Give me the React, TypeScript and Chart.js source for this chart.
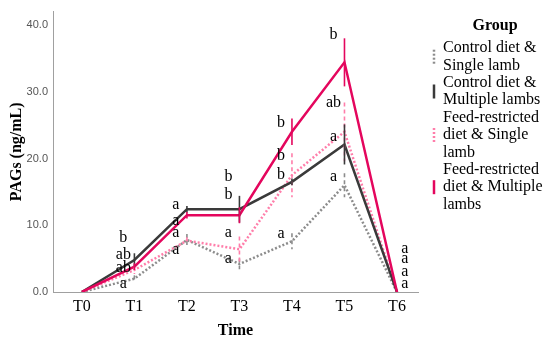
import React, { useEffect, useRef } from 'react';
import { Chart, registerables } from 'chart.js';

Chart.register(...registerables);

const times = ['T0', 'T1', 'T2', 'T3', 'T4', 'T5', 'T6'];
const yTicks = [0, 10, 20, 30, 40];

const controlSingle = [0, 2.0, 7.8, 4.2, 7.6, 16.0, 0];
const controlMultiple = [0, 4.8, 12.4, 12.4, 16.5, 22.1, 0];
const feedSingle = [0, 3.3, 7.7, 6.4, 17.5, 24.0, 0];
const feedMultiple = [0, 3.8, 11.5, 11.5, 24.0, 34.4, 0];

const controlSingleErr = [0, 0.5, 0.9, 0.8, 1.2, 1.8, 0];
const controlMultipleErr = [0, 1.0, 0.5, 2.0, 0.5, 3.0, 0];
const feedSingleErr = [0, 0.6, 0.5, 1.9, 3.3, 4.4, 0];
const feedMultipleErr = [0, 0.5, 0.5, 1.2, 2.0, 3.6, 0];

// significance letters per time point (text and y value of their centre)
const letterText = [
  [],
  ['b', 'ab', 'ab', 'a'],
  ['a', 'a', 'a', 'a'],
  ['b', 'b', 'a', 'a'],
  ['b', 'b', 'b', 'a'],
  ['b', 'ab', 'a', 'a'],
  ['a', 'a', 'a', 'a'],
];
const letterY = [
  [],
  [8.1, 5.5, 3.7, 1.3],
  [13.1, 10.7, 8.8, 6.3],
  [17.3, 14.5, 8.8, 4.9],
  [25.3, 20.4, 17.5, 8.7],
  [38.5, 28.4, 23.3, 17.2],
  [6.5, 4.9, 3.1, 1.3],
];

const groupNames = [
  ['Control diet &', 'Single lamb'],
  ['Control diet &', 'Multiple lambs'],
  ['Feed-restricted', 'diet & Single', 'lamb'],
  ['Feed-restricted', 'diet & Multiple', 'lambs'],
];

const SERIF = '"Liberation Serif", "Times New Roman", serif';
const SANS = '"Liberation Sans", Arial, sans-serif';

const styles = [
  { color: '#8c8c8c', dash: [2, 2], width: 2.5, errDash: [4, 3] },
  { color: '#3a3a3a', dash: [], width: 2.5, errDash: [] },
  { color: '#ff7eaa', dash: [2, 2], width: 2.5, errDash: [4, 3] },
  { color: '#e4065d', dash: [], width: 2.5, errDash: [] },
];

const seriesValues = [controlSingle, controlMultiple, feedSingle, feedMultiple];
const seriesErrors = [controlSingleErr, controlMultipleErr, feedSingleErr, feedMultipleErr];
const drawOrder = [3, 1, 2, 0];

const errorBarPlugin = {
  id: 'errorBars',
  afterDatasetsDraw(chart: any) {
    const { ctx } = chart;
    const xs = chart.scales.x;
    const ys = chart.scales.y;
    ctx.save();
    [0, 2, 1, 3].forEach((si) => {
      const st = styles[si];
      const vals = seriesValues[si];
      const errs = seriesErrors[si];
      ctx.strokeStyle = st.color;
      ctx.lineWidth = 1.6;
      ctx.setLineDash(st.errDash);
      vals.forEach((v, i) => {
        const e = errs[i];
        if (!e) return;
        const px = xs.getPixelForValue(i);
        ctx.beginPath();
        ctx.moveTo(px, ys.getPixelForValue(v + e));
        ctx.lineTo(px, ys.getPixelForValue(v - e));
        ctx.stroke();
      });
    });
    ctx.setLineDash([]);
    // letters
    ctx.fillStyle = '#000';
    ctx.font = `16px ${SERIF}`;
    ctx.textAlign = 'center';
    ctx.textBaseline = 'middle';
    letterText.forEach((arr, i) => {
      const off = i === 6 ? 0.15 : -0.21;
      arr.forEach((t, k) => {
        ctx.fillText(t, xs.getPixelForValue(i + off), ys.getPixelForValue(letterY[i][k]));
      });
    });
    ctx.restore();
  },
};

const legendPlugin = {
  id: 'sideLegend',
  afterDraw(chart: any) {
    const { ctx } = chart;
    ctx.save();
    ctx.fillStyle = '#000';
    ctx.font = `bold 16px ${SERIF}`;
    ctx.textAlign = 'center';
    ctx.textBaseline = 'middle';
    ctx.fillText('Group', 495, 26);
    ctx.font = `16px ${SERIF}`;
    ctx.textAlign = 'left';
    const step = 17.4;
    let y = 48;
    groupNames.forEach((lines, gi) => {
      const first = y;
      lines.forEach((ln) => {
        ctx.fillText(ln, 443, y);
        y += step;
      });
      const center = (first + y - step) / 2;
      const st = styles[gi];
      ctx.strokeStyle = st.color;
      ctx.lineWidth = 2.5;
      ctx.setLineDash(st.dash);
      ctx.beginPath();
      ctx.moveTo(434, center - 7);
      ctx.lineTo(434, center + 7);
      ctx.stroke();
      ctx.setLineDash([]);
    });
    ctx.restore();
  },
};

export default function App() {
  const ref = useRef<HTMLCanvasElement>(null);
  useEffect(() => {
    document.body.style.margin = '0';
    const canvas = ref.current;
    if (!canvas) return;
    const chart = new Chart(canvas, {
      type: 'line',
      data: {
        datasets: seriesValues.map((vals, si) => ({
          label: groupNames[si].join(' '),
          data: vals.map((v, i) => ({ x: i, y: v })),
          borderColor: styles[si].color,
          backgroundColor: styles[si].color,
          borderWidth: styles[si].width,
          borderDash: styles[si].dash,
          pointRadius: 0,
          tension: 0,
          fill: false,
          order: drawOrder[si],
        })),
      },
      options: {
        animation: false,
        responsive: false,
        maintainAspectRatio: false,
        layout: { padding: { left: 0, right: 132, top: 6, bottom: 0 } },
        plugins: {
          legend: { display: false },
          tooltip: { enabled: false },
        },
        scales: {
          x: {
            type: 'linear',
            min: -0.55,
            max: 6.4,
            afterFit: (s: any) => {
              s.height = 50;
            },
            afterBuildTicks: (s: any) => {
              s.ticks = times.map((_, i) => ({ value: i }));
            },
            grid: { display: false, drawTicks: false },
            border: { display: true, color: '#a0a0a0', width: 1 },
            ticks: {
              autoSkip: false,
              maxRotation: 0,
              padding: 5,
              color: '#000',
              font: { family: SERIF, size: 16 },
              callback: (v: any) => times[Math.round(Number(v))] ?? '',
            },
            title: {
              display: true,
              text: 'Time',
              color: '#000',
              font: { family: SERIF, size: 16, weight: 'bold' },
              padding: { top: 0, bottom: 2 },
            },
          },
          y: {
            min: 0,
            max: 42,
            afterFit: (s: any) => {
              s.width = 53;
            },
            afterBuildTicks: (s: any) => {
              s.ticks = yTicks.map((v) => ({ value: v }));
            },
            grid: { display: false, drawTicks: false },
            border: { display: true, color: '#a0a0a0', width: 1 },
            ticks: {
              padding: 5,
              color: '#555',
              font: { family: SANS, size: 11 },
              callback: (v: any) => Number(v).toFixed(1),
            },
            title: {
              display: true,
              text: 'PAGs (ng/mL)',
              color: '#000',
              font: { family: SERIF, size: 16, weight: 'bold' },
              padding: { top: 7, bottom: 0 },
            },
          },
        },
      },
      plugins: [errorBarPlugin, legendPlugin],
    });
    return () => chart.destroy();
  }, []);
  return (
    <div style={{ position: 'absolute', left: 0, top: 0, width: 550, height: 342, background: '#fff' }}>
      <canvas ref={ref} width={550} height={342} />
    </div>
  );
}
